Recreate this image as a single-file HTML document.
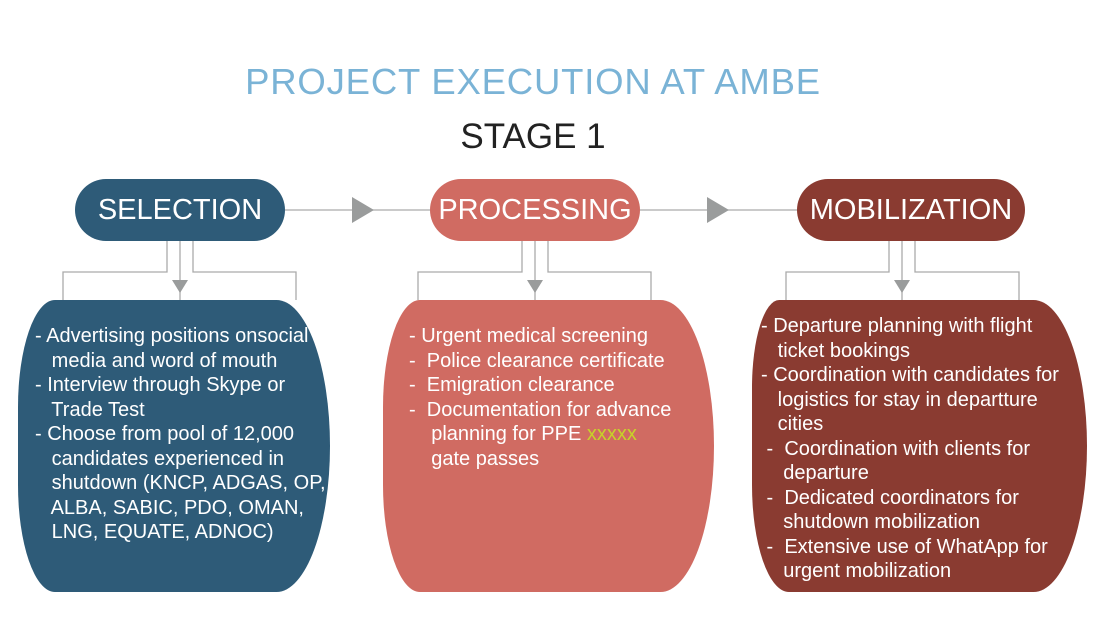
<!DOCTYPE html>
<html><head><style>
body{margin:0;width:1096px;height:632px;background:#fff;position:relative;overflow:hidden;font-family:"Liberation Sans",sans-serif}
.t{position:absolute;left:0;width:1066px;text-align:center}
.pill{position:absolute;top:179px;height:62px;border-radius:31px;color:#fff;font-size:29px;line-height:62px;text-align:center}
.box{position:absolute;top:300px;height:292px;border-radius:38px 55px 55px 38px/110px 150px 150px 110px;color:#fff;font-size:20px;line-height:24.5px;box-sizing:border-box;white-space:pre}
</style></head><body>
<div class="t" style="top:61px;font-size:36.5px;color:#7ab3d6;letter-spacing:0.8px">PROJECT EXECUTION AT AMBE</div>
<div class="t" style="top:117px;font-size:35px;color:#222">STAGE 1</div>
<svg width="1096" height="632" style="position:absolute;left:0;top:0">
<g stroke="#aaa" stroke-width="1.3" fill="none">
<line x1="285" y1="210" x2="430" y2="210"/><line x1="640" y1="210" x2="797" y2="210"/>
<polyline points="167,240 167,272 63,272 63,300"/><polyline points="193,240 193,272 296,272 296,300"/><line x1="180" y1="240" x2="180" y2="300"/>
<polyline points="522,240 522,272 418,272 418,300"/><polyline points="548,240 548,272 651,272 651,300"/><line x1="535" y1="240" x2="535" y2="300"/>
<polyline points="889,240 889,272 786,272 786,300"/><polyline points="915,240 915,272 1019,272 1019,300"/><line x1="902" y1="240" x2="902" y2="300"/>
</g>
<g fill="#9a9c9c">
<polygon points="352,197 374,210 352,223"/><polygon points="707,197 729,210 707,223"/>
<polygon points="172,280 188,280 180,293"/><polygon points="527,280 543,280 535,293"/><polygon points="894,280 910,280 902,293"/>
</g></svg>
<div class="pill" style="left:75px;width:210px;background:#2e5b78">SELECTION</div>
<div class="pill" style="left:430px;width:210px;background:#d06b62">PROCESSING</div>
<div class="pill" style="left:797px;width:228px;background:#8a3b31">MOBILIZATION</div>
<div class="box" style="left:18px;width:312px;background:#2e5b78;padding:24px 0 0 17px">- Advertising positions onsocial
   media and word of mouth
- Interview through Skype or
   Trade Test
- Choose from pool of 12,000
   candidates experienced in
   shutdown (KNCP, ADGAS, OP,
   ALBA, SABIC, PDO, OMAN,
   LNG, EQUATE, ADNOC)</div>
<div class="box" style="left:383px;width:331px;background:#d06b62;padding:24px 0 0 26px">- Urgent medical screening
-  Police clearance certificate
-  Emigration clearance
-  Documentation for advance
    planning for PPE <span style="color:#c8d22a">xxxxx</span>
    gate passes</div>
<div class="box" style="left:752px;width:335px;background:#8a3b31;padding:14px 0 0 9px;border-radius:28px 55px 55px 38px/90px 150px 150px 110px">- Departure planning with flight
   ticket bookings
- Coordination with candidates for
   logistics for stay in departture
   cities
 -  Coordination with clients for
    departure
 -  Dedicated coordinators for
    shutdown mobilization
 -  Extensive use of WhatApp for
    urgent mobilization</div>
</body></html>
